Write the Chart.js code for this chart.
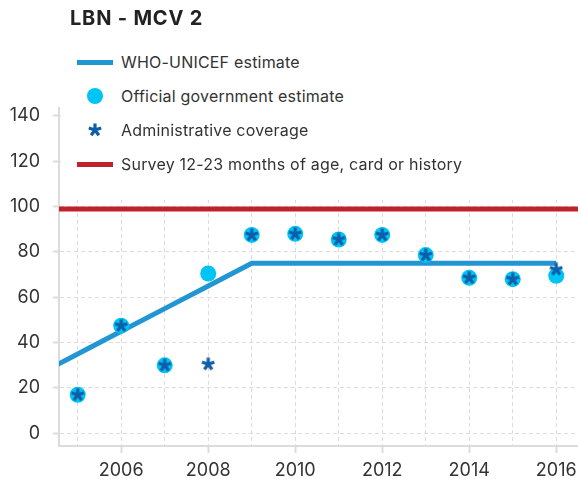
<!DOCTYPE html>
<html lang="en">
<head>
<meta charset="UTF-8" />
<title>LBN - MCV 2</title>
<script src="https://cdn.jsdelivr.net/npm/chart.js"></script>
<style>
  body { margin: 0; background: #fff; font-family: Inter, "Open Sans", sans-serif; }
  .quadro { position: relative; width: 578px; height: 479px; }
  .titulo { position: absolute; left: 70px; top: 6px; font-size: 20px; letter-spacing: 0.8px; font-weight: bold; color: #222; }
  .legenda { position: absolute; left: 61px; top: 42px; width: 517px; height: 158px; background: #fff; padding-top: 3px; box-sizing: border-box; }
  .item { display: flex; align-items: center; height: 34px; }
  .simbolo { width: 36px; margin-left: 16px; display: flex; justify-content: center; align-items: center; }
  .texto { margin-left: 8px; font-size: 16px; letter-spacing: 0.2px; color: #333; }
  .linha { width: 36px; height: 5px; }
  .bola { width: 16px; height: 16px; border-radius: 50%; background: #00c4f4; }
</style>
</head>
<body>
<div class="quadro">
  <canvas id="grafico" width="578" height="479"></canvas>
  <div class="titulo">LBN - MCV 2</div>
  <div class="legenda">
    <div class="item"><div class="simbolo"><div class="linha" style="background:#2196d3"></div></div><div class="texto">WHO-UNICEF estimate</div></div>
    <div class="item"><div class="simbolo"><div class="bola"></div></div><div class="texto">Official government estimate</div></div>
    <div class="item"><div class="simbolo" id="simboloAdm"></div><div class="texto">Administrative coverage</div></div>
    <div class="item"><div class="simbolo"><div class="linha" style="background:#c0222b"></div></div><div class="texto">Survey 12-23 months of age, card or history</div></div>
  </div>
</div>

<script>
  // dados
  var anos = [2005, 2006, 2007, 2008, 2009, 2010, 2011, 2012, 2013, 2014, 2015, 2016];
  var anosWuenic = [2004, 2005, 2006, 2007, 2008, 2009, 2010, 2011, 2012, 2013, 2014, 2015, 2016];
  var wuenic = [25, 35, 45, 55, 65, 75, 75, 75, 75, 75, 75, 75, 75];
  var oficial = [17, 47.5, 30, 70.5, 87.5, 88, 85.5, 87.5, 78.6, 68.6, 68, 69.5];
  var administrativo = [17, 47.5, 30, 30.5, 87.5, 88, 85.5, 87.5, 78.6, 68.6, 68, 72.3];
  var inquerito = 99;
  var gradeY = [0, 10, 20, 30, 40, 50, 60, 70, 80, 90, 100, 110, 120, 130, 140];
  var rotulosY = [0, 20, 40, 60, 80, 100, 120, 140];
  var rotulosX = [2006, 2008, 2010, 2012, 2014, 2016];

  var xMin = 2004.57, xMax = 2016.5;
  var cinza = "#dcdcdc";

  function pontos(xs, ys) {
    return xs.map(function (x, i) { return { x: x, y: ys[i] }; });
  }

  function desenharAsterisco(tam, cor) {
    var c = document.createElement("canvas");
    c.width = tam; c.height = tam;
    var ctx = c.getContext("2d");
    ctx.translate(tam / 2, tam / 2);
    ctx.strokeStyle = cor;
    ctx.lineWidth = 3.2;
    ctx.lineCap = "butt";
    var r = tam / 2 - 0.5;
    ctx.beginPath();
    for (var i = 0; i < 5; i++) {
      var a = -Math.PI / 2 + i * 2 * Math.PI / 5;
      ctx.moveTo(0, 0);
      ctx.lineTo(r * Math.cos(a), r * Math.sin(a));
    }
    ctx.stroke();
    return c;
  }

  var corAsterisco = "#0e5da8";
  document.getElementById("simboloAdm").appendChild(desenharAsterisco(14, corAsterisco));

  Chart.defaults.font.family = "Inter, 'Open Sans', sans-serif";
  Chart.defaults.color = "#333";

  new Chart(document.getElementById("grafico"), {
    type: "line",
    data: {
      datasets: [
        {
          label: "Administrative coverage",
          data: pontos(anos, administrativo),
          showLine: false,
          pointStyle: desenharAsterisco(14, corAsterisco),
          pointRadius: 7
        },
        {
          label: "Official government estimate",
          data: pontos(anos, oficial),
          showLine: false,
          pointStyle: "circle",
          pointRadius: 8,
          pointBorderWidth: 0,
          pointBackgroundColor: "#00c4f4"
        },
        {
          label: "WHO-UNICEF estimate",
          data: pontos(anosWuenic, wuenic),
          borderColor: "#2196d3",
          borderWidth: 5,
          pointRadius: 0,
          tension: 0
        },
        {
          label: "Survey 12-23 months of age, card or history",
          data: pontos([xMin, xMax], [inquerito, inquerito]),
          borderColor: "#c0222b",
          borderWidth: 5,
          pointRadius: 0
        }
      ]
    },
    options: {
      responsive: false,
      animation: false,
      layout: { autoPadding: false, padding: { top: 108, left: 0, right: 0, bottom: 0 } },
      plugins: { legend: { display: false }, tooltip: { enabled: false } },
      scales: {
        x: {
          type: "linear",
          min: xMin,
          max: xMax,
          afterBuildTicks: function (eixo) {
            eixo.ticks = anos.map(function (v) { return { value: v }; });
          },
          afterFit: function (eixo) {
            eixo.height = 33;
            eixo.paddingLeft = 0;
            eixo.paddingRight = 0;
          },
          ticks: {
            autoSkip: false,
            maxRotation: 0,
            padding: 7,
            font: { size: 18 },
            callback: function (v) { return rotulosX.indexOf(v) >= 0 ? String(v) : ""; }
          },
          grid: {
            color: cinza,
            lineWidth: 1,
            tickLength: 7,
            tickWidth: 2,
            tickColor: function (c) { return c.tick && rotulosX.indexOf(c.tick.value) >= 0 ? cinza : "transparent"; }
          },
          border: { color: cinza, width: 2, dash: [4, 3] }
        },
        y: {
          min: -5.6,
          max: 143.5,
          afterBuildTicks: function (eixo) {
            eixo.ticks = gradeY.map(function (v) { return { value: v }; });
          },
          afterFit: function (eixo) { eixo.width = 59; },
          ticks: {
            padding: 13,
            font: { size: 18 },
            callback: function (v) { return rotulosY.indexOf(v) >= 0 ? String(v) : ""; }
          },
          grid: {
            color: cinza,
            lineWidth: 1,
            tickLength: 6,
            tickWidth: 2,
            tickColor: function (c) { return c.tick && rotulosY.indexOf(c.tick.value) >= 0 ? cinza : "transparent"; }
          },
          border: { color: cinza, width: 2, dash: [4, 3] }
        }
      }
    }
  });
</script>
</body>
</html>
